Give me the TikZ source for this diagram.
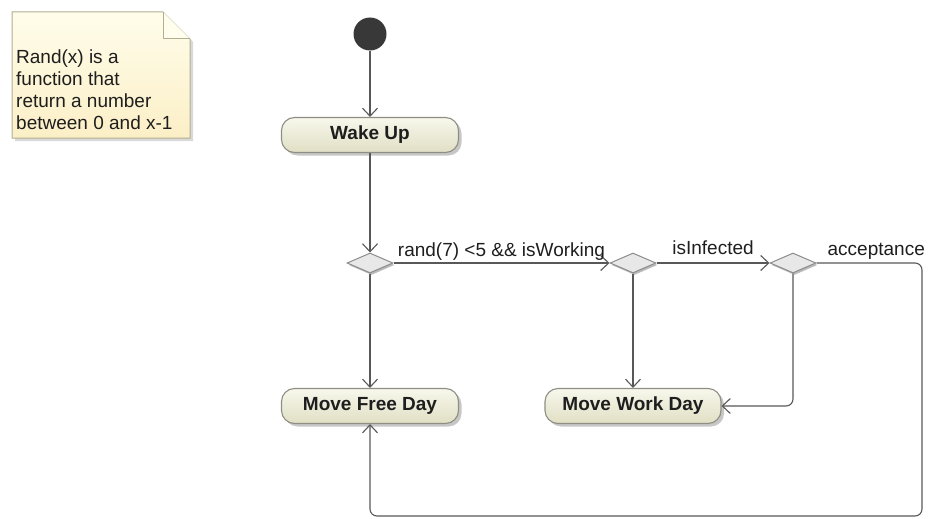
\documentclass[tikz,border=0pt]{standalone}
\usepackage{fontspec}
\setmainfont{Liberation Sans}
\usetikzlibrary{arrows.meta,shadows,shapes.geometric}
\definecolor{edgecol}{HTML}{585858}
\definecolor{txtcol}{HTML}{1E1E1E}
\definecolor{acttop}{HTML}{F7F7EC}
\definecolor{actbot}{HTML}{E1DFC4}
\definecolor{actline}{HTML}{8E8E84}
\definecolor{notetop}{HTML}{FFFDEB}
\definecolor{notebot}{HTML}{FBEFC6}
\definecolor{noteline}{HTML}{B2AE92}
\tikzset{
  action/.style={draw=actline, line width=1.1pt, rounded corners=13pt,
    top color=acttop, bottom color=actbot,
    minimum width=177pt, minimum height=35pt, inner sep=0pt,
    font=\fontsize{19}{22}\selectfont\bfseries, text=txtcol,
    drop shadow={shadow xshift=3pt, shadow yshift=-3pt, fill=black!40, opacity=.55}},
  decision/.style={diamond, draw=black!45, line width=1pt, fill=black!9,
    minimum width=46pt, minimum height=20pt, inner sep=0pt,
    drop shadow={shadow xshift=1.5pt, shadow yshift=-2pt, fill=black!45, opacity=.6}},
  startnode/.style={circle, fill=black!78, minimum size=33pt, inner sep=0pt},
  flow/.style={draw=edgecol, line width=1.1pt,
    -{Straight Barb[length=8pt, width=15pt, line width=1.1pt]}},
  lbl/.style={font=\fontsize{19}{22}\selectfont, text=txtcol, inner sep=0pt, anchor=base},
}
\begin{document}
\begin{tikzpicture}[x=1pt, y=-1pt]
\useasboundingbox (0,0) rectangle (930,519);

% comment note with folded corner
\fill[black!25, opacity=.6] (15,15) -- (166,15) -- (193,42) -- (193,141) -- (15,141) -- cycle;
\shade[top color=notetop, bottom color=notebot, draw=noteline, line width=1pt]
  (12,12) -- (163,12) -- (190,39) -- (190,138) -- (12,138) -- cycle;
\filldraw[fill=notetop, draw=noteline, line width=1pt, line join=round]
  (163,12) -- (163,39) -- (190,39);
\node (note) [anchor=north west, align=left, inner sep=0pt,
  font=\fontsize{19}{22}\selectfont, text=txtcol] at (16,50)
  {Rand(x) is a\\function that\\return a number\\between 0 and x-1};

% activity nodes
\node (init)  [startnode] at (370,34) {};
\node (wake)  [action] at (370,135) {Wake Up};
\node (d1)    [decision] at (370,263) {};
\node (d2)    [decision] at (633,263) {};
\node (d3)    [decision] at (793,263) {};
\node (mfree) [action] at (370,406) {Move Free Day};
\node (mwork) [action, minimum width=176pt] at (633,406) {Move Work Day};

% control flows
\draw[flow] (init) -- (wake);
\draw[flow] (wake) -- (d1);
\draw[flow] (d1) -- node[lbl, yshift=7pt] {rand(7) <5 \&\& isWorking} (d2);
\draw[flow] (d2) -- node[lbl, yshift=9pt] {isInfected} (d3);
\draw[flow] (d1) -- (mfree);
\draw[flow] (d2) -- (mwork);
\draw[flow, rounded corners=7pt] (d3.south) |- (mwork.east);
\draw[flow, rounded corners=7pt] (d3.east) -- node[lbl, yshift=8pt, xshift=7pt] {acceptance}
  (922,263) -- (922,516) -- (370,516) -- (mfree.south);
\end{tikzpicture}
\end{document}
